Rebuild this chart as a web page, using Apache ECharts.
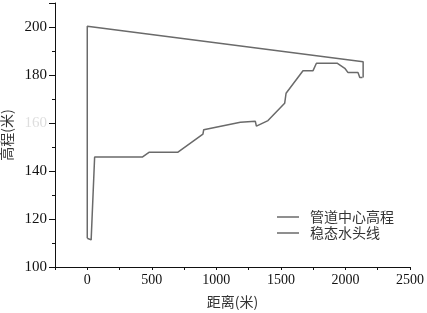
<!DOCTYPE html>
<html><head><meta charset="utf-8">
<script src="https://cdn.jsdelivr.net/npm/echarts@6/dist/echarts.min.js"></script>
<style>html,body{margin:0;padding:0;background:#fff}#c{width:427px;height:313px}</style>
</head><body><div id="c"></div>
<script>
const seriesNames = ['管道中心高程', '稳态水头线'];
const pipeDist = [0, 5, 30, 57, 426, 478, 700, 896, 902, 1186, 1188, 1302, 1310, 1400, 1529, 1540, 1671, 1749, 1775, 1935, 1995, 2020, 2097, 2111, 2132, 2137];
const pipeElev = [112, 111.3, 111.3, 145.8, 145.8, 147.8, 147.8, 155.4, 157.2, 160.3, 160.7, 160.7, 158.7, 161, 168.2, 172.4, 181.8, 181.8, 184.9, 184.9, 182.8, 181, 181, 179, 179, 179];
const headDist = [0, 0, 2137, 2137];
const headElev = [112, 200.3, 185.5, 179];
const xTickLabels = [0, 500, 1000, 1500, 2000, 2500];
const yTickLabels = [100, 120, 140, 160, 180, 200];

const lineColor = '#6a6a6a';
const axisColor = '#111';
const serif = 'Liberation Serif';
const cjk = 'Noto Sans CJK SC';

const chart = echarts.init(document.getElementById('c'));
const grid = {left: 55, right: 17, top: 3, bottom: 46, containLabel: false, outerBoundsMode: 'none'};
chart.setOption({
  animation: false,
  grid: grid,
  legend: {
    orient: 'vertical', left: 272, top: 205, itemGap: 2,
    itemWidth: 22, itemHeight: 1.5, icon: 'rect',
    textStyle: {fontFamily: cjk, fontSize: 14, color: '#333', padding: [0, 0, 0, 6]},
    data: seriesNames.map(n => ({name: n, itemStyle: {color: lineColor}}))
  },
  xAxis: [
    {
      type: 'value', min: -250, max: 2500, interval: 250, splitLine: {show: false},
      name: '距离(米)', nameLocation: 'middle', nameGap: 28,
      nameTextStyle: {fontFamily: cjk, fontSize: 14, color: '#333'},
      axisLine: {show: true, onZero: false, lineStyle: {color: axisColor, width: 1}},
      axisTick: {show: true, inside: false, length: 3, lineStyle: {color: axisColor, width: 1}},
      axisLabel: {show: true, margin: 6, fontFamily: serif, fontSize: 14, color: axisColor,
        formatter: v => (xTickLabels.indexOf(v) >= 0) ? String(v) : ''}
    }
  ],
  yAxis: [
    {
      type: 'value', min: 100, max: 210, interval: 20, splitLine: {show: false},
      name: '高程(米)', nameLocation: 'middle', nameGap: 40,
      nameTextStyle: {fontFamily: cjk, fontSize: 14, color: '#333'},
      axisLine: {show: true, onZero: false, lineStyle: {color: axisColor, width: 1}},
      axisTick: {show: true, inside: false, length: 6, lineStyle: {color: axisColor, width: 1}},
      minorTick: {show: true, splitNumber: 2, length: 3, lineStyle: {color: axisColor, width: 1}},
      axisLabel: {show: true, margin: 8, fontFamily: serif, fontSize: 15, color: axisColor,
        formatter: v => v === 160 ? '{l|160}' : (yTickLabels.indexOf(v) >= 0 ? String(v) : ''),
        rich: {l: {color: '#dedede', fontFamily: serif, fontSize: 15}}}
    }
  ],
  series: [
    {name: seriesNames[0], type: 'line', showSymbol: false, symbol: 'none', color: lineColor,
     lineStyle: {color: lineColor, width: 1.5},
     data: pipeDist.map((d, i) => [d, pipeElev[i]])},
    {name: seriesNames[1], type: 'line', showSymbol: false, symbol: 'none', color: lineColor,
     lineStyle: {color: lineColor, width: 1.5},
     data: headDist.map((d, i) => [d, headElev[i]])}
  ]
});
</script></body></html>
